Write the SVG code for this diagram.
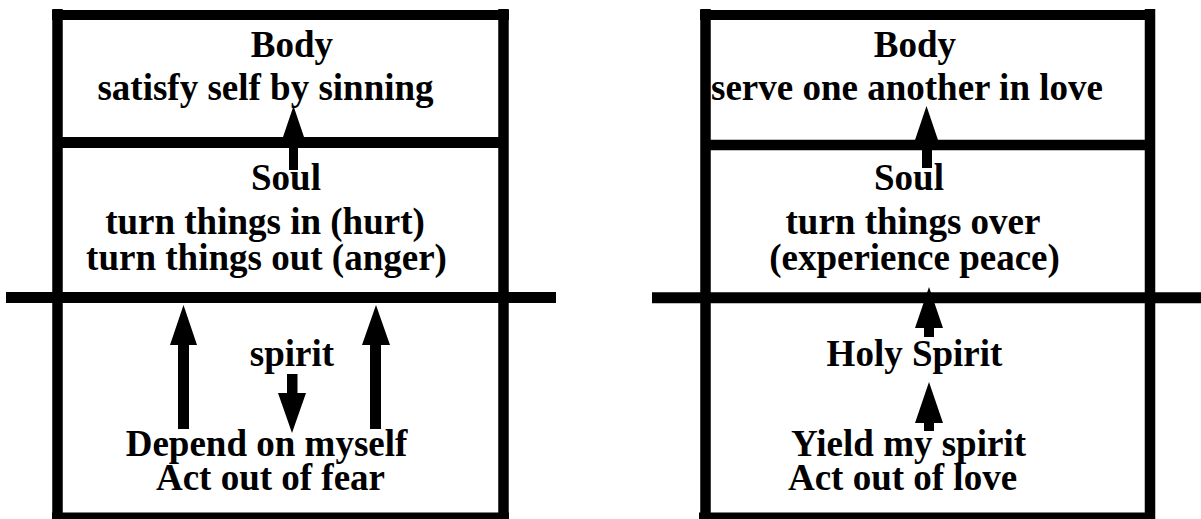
<svg xmlns="http://www.w3.org/2000/svg" width="1201" height="519" viewBox="0 0 1201 519">
<style>
.ln{stroke:#000;fill:none}
.t{font-family:"Liberation Serif","Times New Roman",serif;font-weight:bold;font-size:37px;fill:#000;text-anchor:middle}
.ar{fill:#000;stroke:none}
</style>
<rect width="1201" height="519" fill="#fff"/>
<g id="frame-left" class="ln">
<line x1="52" y1="15" x2="509" y2="15" stroke-width="10"/>
<line x1="57.5" y1="9" x2="57.5" y2="519" stroke-width="10.5"/>
<line x1="503.5" y1="9" x2="503.5" y2="519" stroke-width="10.5"/>
<line x1="57" y1="142.5" x2="504" y2="142.5" stroke-width="11"/>
<line x1="6" y1="297.5" x2="556" y2="297.5" stroke-width="11"/>
<line x1="52" y1="516" x2="509" y2="516" stroke-width="7"/>
</g>
<g id="frame-right" class="ln">
<line x1="700" y1="15" x2="1155" y2="15" stroke-width="10"/>
<line x1="705.5" y1="9" x2="705.5" y2="519" stroke-width="10.5"/>
<line x1="1150" y1="9" x2="1150" y2="519" stroke-width="10.5"/>
<line x1="705" y1="145" x2="1150" y2="145" stroke-width="10.5"/>
<line x1="652" y1="297.8" x2="1201" y2="297.8" stroke-width="11"/>
<line x1="699" y1="516" x2="1155" y2="516" stroke-width="7"/>
</g>
<g id="left-body">
<text class="t" x="292" y="57">Body</text>
<text class="t" x="265.5" y="100">satisfy self by sinning</text>
</g>
<g id="left-soul">
<text class="t" x="286" y="190">Soul</text>
<text class="t" x="265" y="234">turn things in (hurt)</text>
<text class="t" x="266.5" y="270">turn things out (anger)</text>
</g>
<g id="left-spirit">
<text class="t" x="292" y="366">spirit</text>
</g>
<g id="left-self">
<text class="t" x="266.5" y="456">Depend on myself</text>
<text class="t" x="270.5" y="490">Act out of fear</text>
</g>
<g id="right-body">
<text class="t" x="915" y="57">Body</text>
<text class="t" x="907" y="100">serve one another in love</text>
</g>
<g id="right-soul">
<text class="t" x="909" y="190">Soul</text>
<text class="t" x="913" y="234">turn things over</text>
<text class="t" x="914.5" y="270">(experience peace)</text>
</g>
<g id="right-spirit">
<text class="t" x="914.5" y="366">Holy Spirit</text>
</g>
<g id="right-self">
<text class="t" x="908.5" y="456">Yield my spirit</text>
<text class="t" x="902.5" y="490">Act out of love</text>
</g>
<g id="connectors" class="ar">
<path d="M289,137H298V170H289Z M283,137L293.5,106L304,137Z"/>
<path d="M178,345H189V429H178Z M170,345L183.5,305L197,345Z"/>
<path d="M370,345H381V429H370Z M362,345L376,305L390,345Z"/>
<path d="M287,374H297.5V393H287Z M278,393L306,393L292,433Z"/>
<path d="M922,140H932V168H922Z M915,140L926.5,106L938,140Z"/>
<path d="M924,328H934V337H924Z M915,328L929,287L943,328Z"/>
<path d="M924,423H934V431H924Z M915,423L929,382L943,423Z"/>
</g>
</svg>
